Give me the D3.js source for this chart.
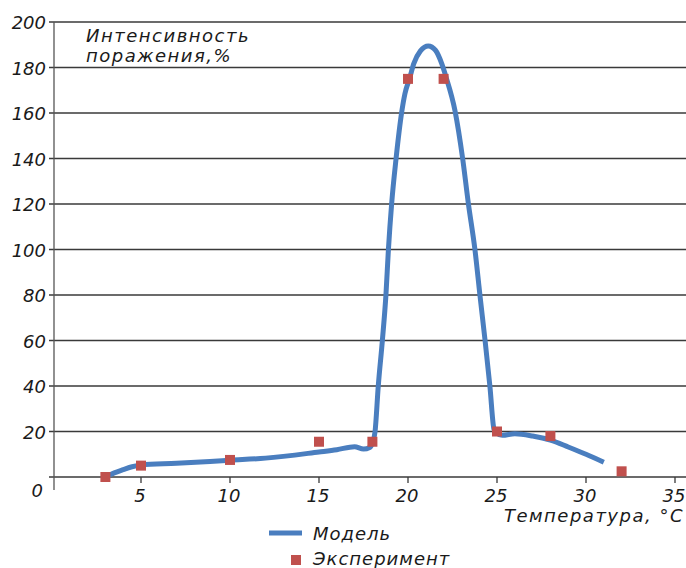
<!DOCTYPE html>
<html>
<head>
<meta charset="utf-8">
<script src="https://cdn.jsdelivr.net/npm/d3@7.9.0/dist/d3.min.js"></script>
<style>
  body { margin: 0; background: #fff; }
  text { font-family: "DejaVu Sans", sans-serif; font-style: italic; fill: #1a1a1a; }
</style>
</head>
<body>
<svg width="686" height="568"></svg>
<script>
// experiment points (temperature, intensity %)
const expT = [3, 5, 10, 15, 18, 20, 22, 25, 28, 32];
const expV = [0, 5, 7.5, 15.5, 15.5, 175, 175, 20, 18, 2.5];

// model curve
const modelT = [3, 3.5, 4, 4.5, 5, 7, 10, 12, 15, 16, 17, 17.5, 17.85, 18.0, 18.15, 18.33, 18.56, 18.76, 18.9, 19.08, 19.33, 19.65, 19.83, 20.08, 20.33, 20.7, 21.14, 21.55, 21.89, 22.13, 22.64, 23.07, 23.39, 23.76, 24.04, 24.33, 24.6, 24.83, 24.95, 25.3, 26, 27, 28, 29, 30, 31];
const modelV = [0, 1.8, 3.2, 4.5, 5.3, 6, 7.4, 8.3, 11, 12, 13.3, 12.3, 13, 15, 20, 40, 60, 80, 100, 120, 140, 160.6, 168.6, 175, 181.8, 187.3, 189.5, 187.5, 181.8, 176, 161, 140, 120.3, 100, 80, 60, 40, 21, 19.5, 18.3, 19, 18, 16.2, 13.2, 10, 6.5];

const yTicks = [0, 20, 40, 60, 80, 100, 120, 140, 160, 180, 200];
const xTicks = [5, 10, 15, 20, 25, 30, 35];

const svg = d3.select('svg');
const x = d3.scaleLinear().domain([0, 35]).range([52, 675]);
const y = d3.scaleLinear().domain([0, 200]).range([477, 22]);

// horizontal grid
svg.selectAll('line.grid')
  .data(yTicks)
  .enter().append('line')
  .attr('x1', 49).attr('x2', 686)
  .attr('y1', d => y(d)).attr('y2', d => y(d))
  .attr('stroke', '#3a3a3a')
  .attr('stroke-width', 1.3);

// y axis line
svg.append('line')
  .attr('x1', 54).attr('x2', 54)
  .attr('y1', y(200)).attr('y2', 490)
  .attr('stroke', '#555').attr('stroke-width', 1.3);

// x tick marks
svg.selectAll('line.xt')
  .data(xTicks)
  .enter().append('line')
  .attr('x1', d => x(d)).attr('x2', d => x(d))
  .attr('y1', y(0)).attr('y2', y(0) + 6)
  .attr('stroke', '#3a3a3a').attr('stroke-width', 1.3);

// y labels
svg.selectAll('text.yl')
  .data(yTicks)
  .enter().append('text')
  .attr('x', d => d === 0 ? 43 : 46)
  .attr('y', d => d === 0 ? y(d) + 20 : y(d) + 7)
  .attr('text-anchor', 'end')
  .attr('font-size', 18)
  .text(d => d);

// x labels
svg.selectAll('text.xl')
  .data(xTicks)
  .enter().append('text')
  .attr('x', d => x(d) - 1)
  .attr('y', y(0) + 25)
  .attr('text-anchor', 'middle')
  .attr('font-size', 18)
  .text(d => d);

// model line
const line = d3.line()
  .x((d, i) => x(modelT[i]))
  .y(d => y(d))
  .curve(d3.curveMonotoneX);

svg.append('path')
  .attr('d', line(modelV))
  .attr('fill', 'none')
  .attr('stroke', '#4a7ebf')
  .attr('stroke-width', 5)
  .attr('stroke-linejoin', 'round');

// experiment squares
svg.selectAll('rect.pt')
  .data(expV)
  .enter().append('rect')
  .attr('x', (d, i) => x(expT[i]) - 5)
  .attr('y', d => y(d) - 5)
  .attr('width', 10).attr('height', 10)
  .attr('fill', '#c0504d');

// axis titles
svg.append('text').attr('x', 86).attr('y', 42).attr('font-size', 18).attr('letter-spacing', 1.5).text('Интенсивность');
svg.append('text').attr('x', 86).attr('y', 62).attr('font-size', 18).attr('letter-spacing', 1.5).text('поражения,%');
svg.append('text').attr('x', 684).attr('y', 522).attr('text-anchor', 'end').attr('font-size', 18).attr('letter-spacing', 1.5).text('Температура, °C');

// legend
svg.append('line')
  .attr('x1', 269).attr('x2', 302).attr('y1', 533).attr('y2', 533)
  .attr('stroke', '#4a7ebf').attr('stroke-width', 5);
svg.append('text').attr('x', 313).attr('y', 540).attr('font-size', 18).attr('letter-spacing', 1).text('Модель');
svg.append('rect').attr('x', 291).attr('y', 555).attr('width', 10).attr('height', 10).attr('fill', '#c0504d');
svg.append('text').attr('x', 313).attr('y', 565).attr('font-size', 18).attr('letter-spacing', 1).text('Эксперимент');
</script>
</body>
</html>
